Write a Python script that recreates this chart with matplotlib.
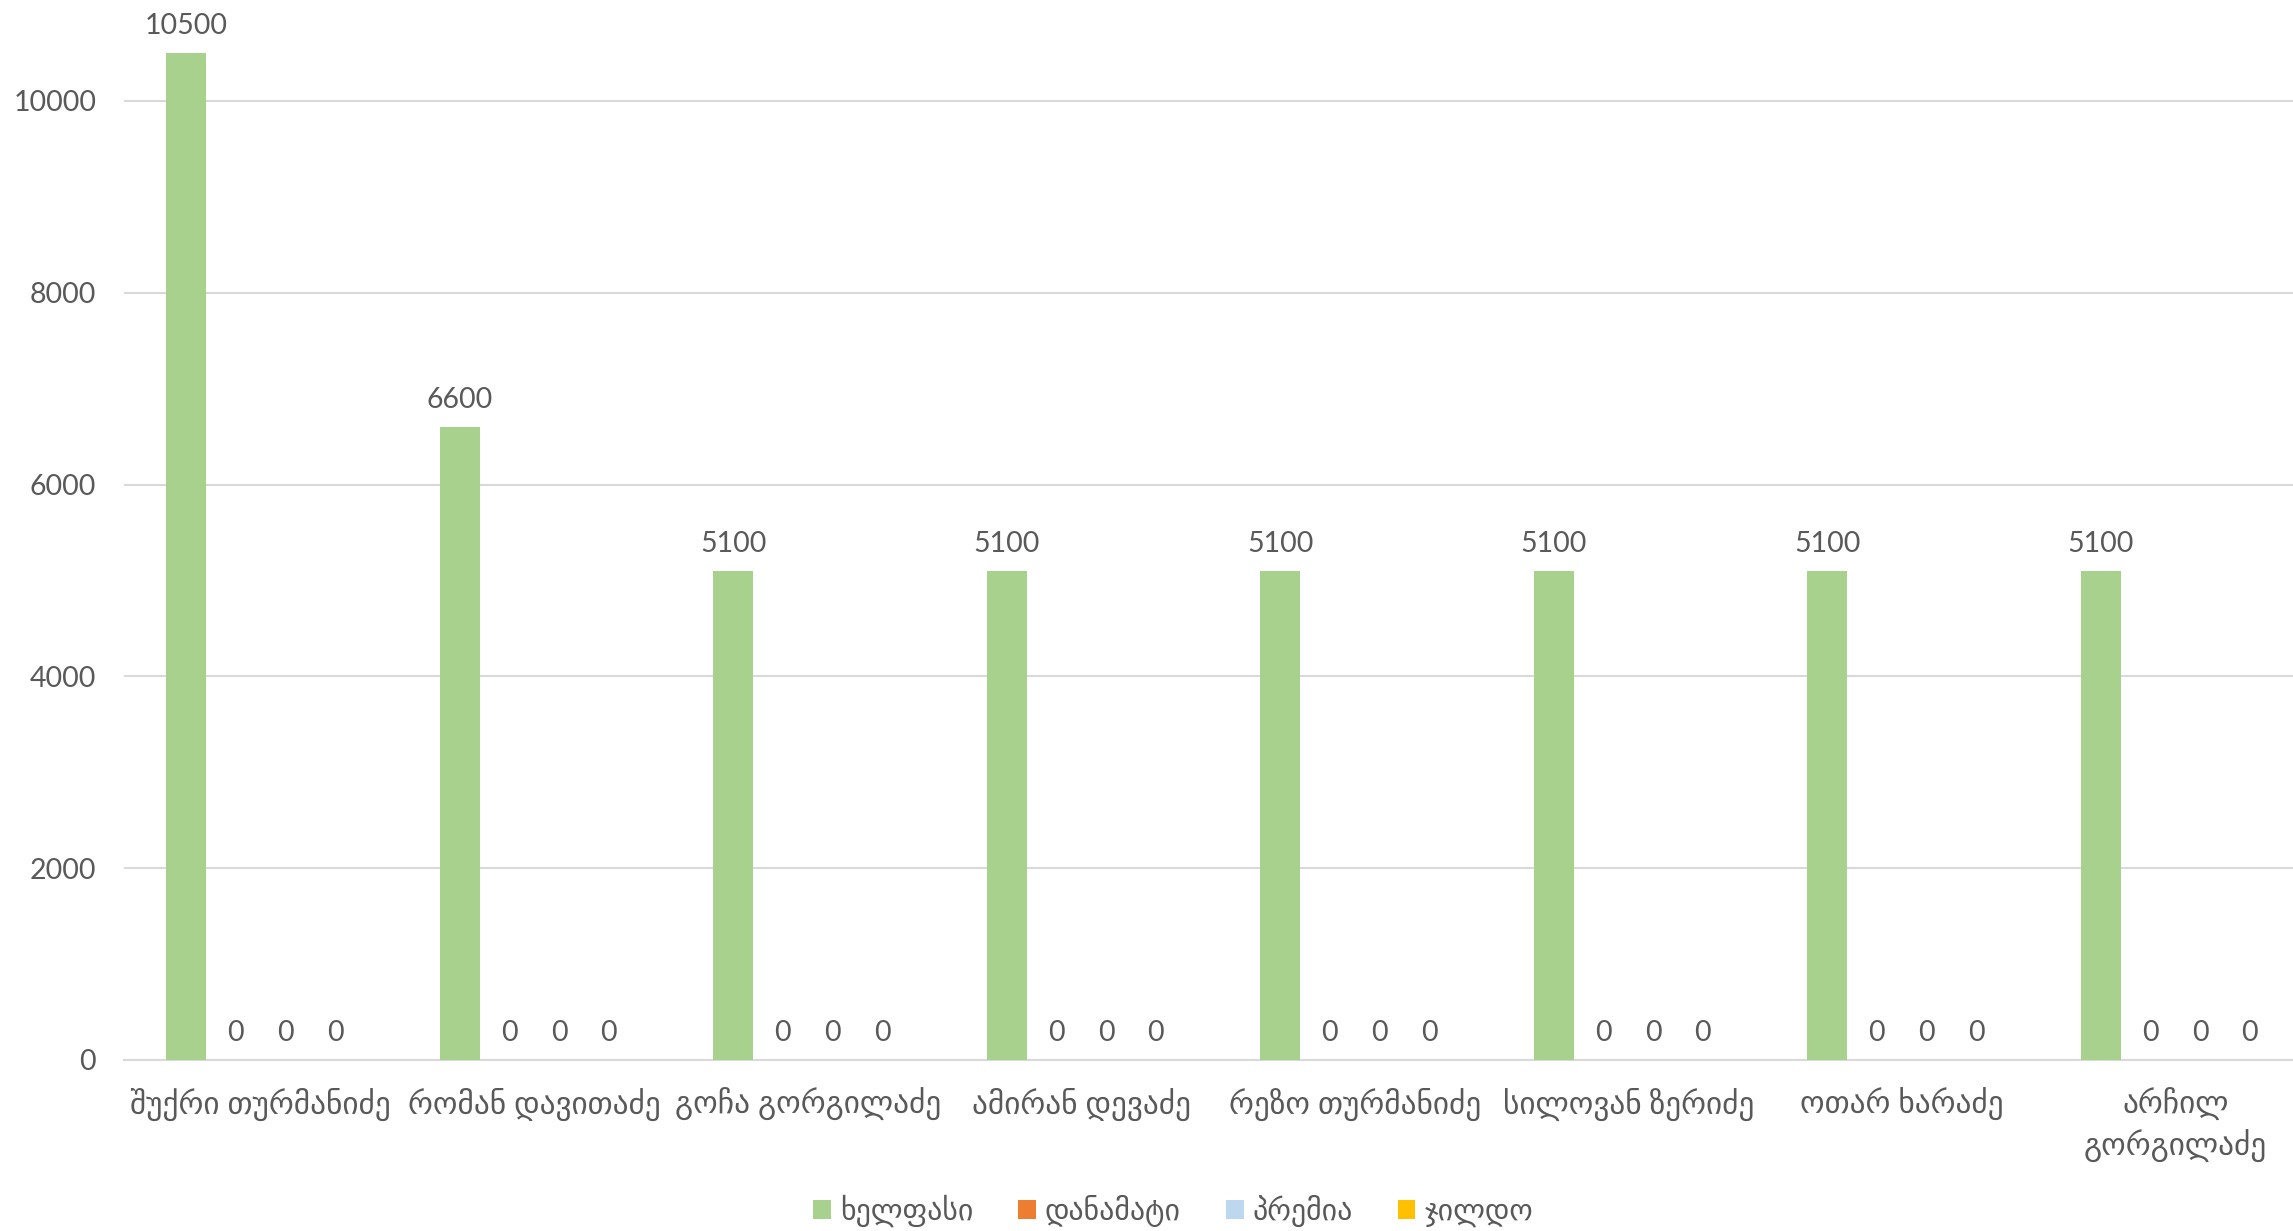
import numpy as np
import matplotlib
matplotlib.use("Agg")
from matplotlib import pyplot as plt

# staff and pay components
names = ["შუქრი თურმანიძე", "რომან დავითაძე", "გოჩა გორგილაძე", "ამირან დევაძე",
         "რეზო თურმანიძე", "სილოვან ზერიძე", "ოთარ ხარაძე", "არჩილ\nგორგილაძე"]
series = ["ხელფასი", "დანამატი", "პრემია", "ჯილდო"]
salary = [10500, 6600, 5100, 5100, 5100, 5100, 5100, 5100]
bonus_add = [0, 0, 0, 0, 0, 0, 0, 0]
premium = [0, 0, 0, 0, 0, 0, 0, 0]
award = [0, 0, 0, 0, 0, 0, 0, 0]
colors = ["#A9D18E", "#ED7D31", "#BDD7EE", "#FFC000"]

txt = "#595959"
plt.rcParams["font.family"] = ["Lato", "DejaVu Sans"]

fig = plt.figure(figsize=(22.93, 12.31), dpi=100)
ax = fig.add_axes([124 / 2293, 171 / 1231, 2188 / 2293, 1060 / 1231])

x = np.arange(len(names))
slot = 0.182
for i, (vals, lab, c) in enumerate(zip([salary, bonus_add, premium, award], series, colors)):
    pos = x + (i - 1.5) * slot
    bars = ax.bar(pos, vals, width=0.146, color=c, label=lab, zorder=3)
    for b, v in zip(bars, vals):
        ax.annotate(str(v), (b.get_x() + b.get_width() / 2, v), xytext=(0, 10),
                    textcoords="offset points", ha="center", va="bottom",
                    fontsize=20.5, color=txt)

ax.set_xlim(-0.5, len(names) - 0.5)
ax.set_ylim(0, 11053)
ax.set_yticks([0, 2000, 4000, 6000, 8000, 10000])
ax.set_xticks(x)
ax.set_xticklabels(names, fontsize=22.5, color=txt, linespacing=1.35)
ax.tick_params(axis="y", length=0, pad=20, labelsize=20.5, labelcolor=txt)
ax.tick_params(axis="x", length=0, pad=20)
ax.grid(axis="y", color="#D9D9D9", linewidth=1.5, zorder=0)
for s in ["top", "right", "left"]:
    ax.spines[s].set_visible(False)
ax.spines["bottom"].set_color("#D9D9D9")
ax.spines["bottom"].set_linewidth(1.5)

fig.legend(loc="center", bbox_to_anchor=(1173 / 2293, 1 - 1211 / 1231), ncol=4,
           frameon=False, fontsize=21.5, handlelength=0.6, handleheight=0.6,
           handletextpad=0.3, columnspacing=1.5, labelcolor=txt)

fig.savefig("out.png", dpi=100)
